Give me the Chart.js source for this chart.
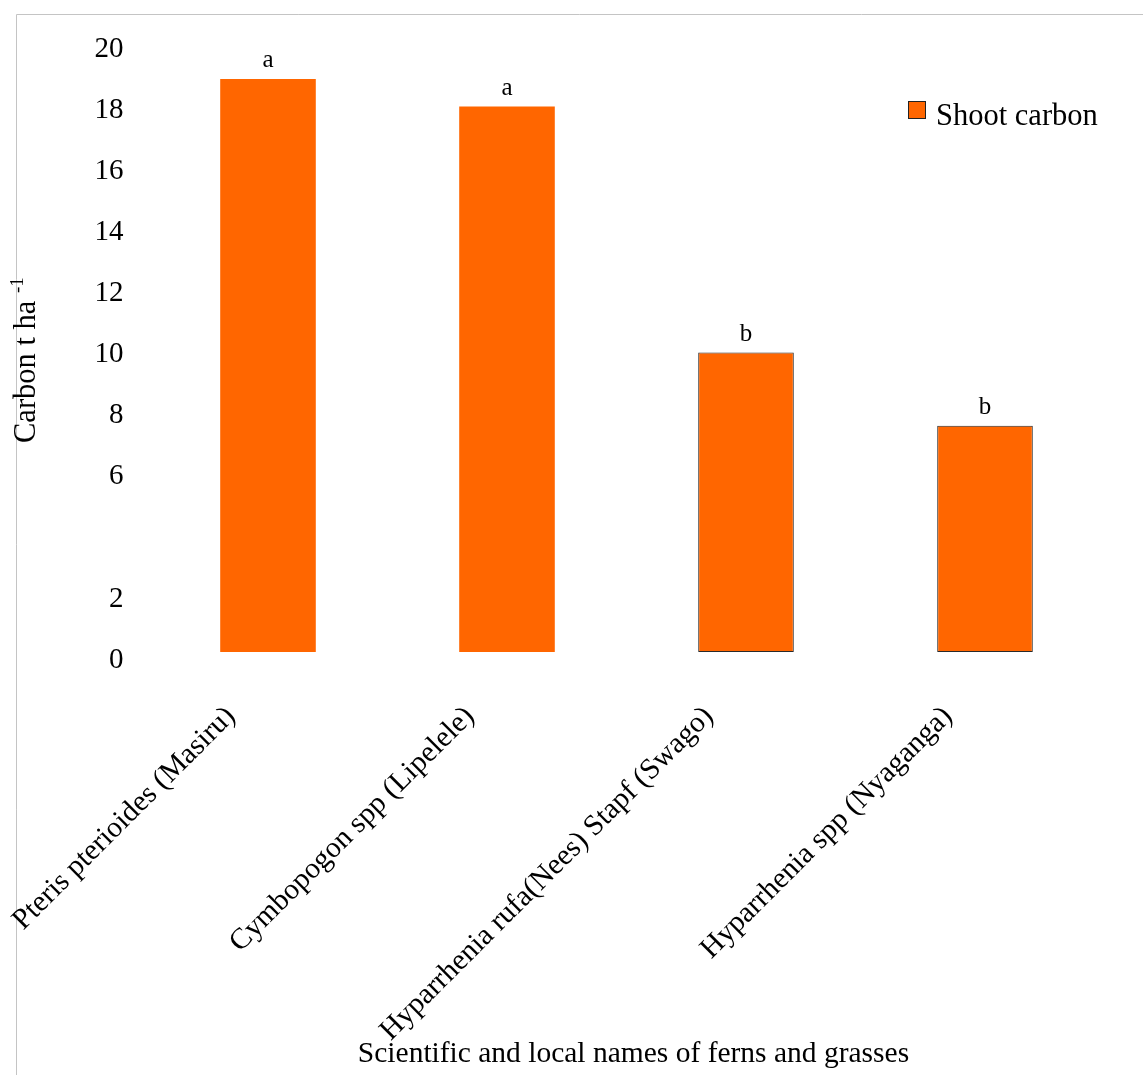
<!DOCTYPE html>
<html>
<head>
<meta charset="utf-8">
<script src="https://cdn.jsdelivr.net/npm/chart.js@4.4.0/dist/chart.umd.min.js"></script>
<style>
    html, body { margin: 0; padding: 0; background: #ffffff; }
    #wrap { width: 1143px; height: 1075px; position: relative; }
</style>
</head>
<body>
<div id="wrap"><canvas id="carbonChart"></canvas></div>
<script>
// Dados
const CATEGORIES = [
    'Pteris pterioides (Masiru)',
    'Cymbopogon spp (Lipelele)',
    'Hyparrhenia rufa(Nees) Stapf (Swago)',
    'Hyparrhenia spp (Nyaganga)'
];
const SHOOT_CARBON = [18.95, 18.05, 10.0, 7.6];
const BAR_BASE = 0.2;              // as barras começam um pouco acima do zero
const SIGNIF_LETTERS = ['a', 'a', 'b', 'b'];
const Y_TICK_LABELS = [0, 2, 6, 8, 10, 12, 14, 16, 18, 20]; // o "4" não aparece

const SERIES_LABEL = 'Shoot carbon';
const X_TITLE = 'Scientific and local names of ferns and grasses';
const Y_TITLE = 'Carbon t ha ';
const Y_TITLE_SUP = '-1';

const FONT = "'Liberation Serif', 'Times New Roman', serif";
const ORANGE = '#ff6600';

// Plugin para moldura, letras, rótulos girados, títulos e legenda
const decorPlugin = {
    id: 'decor',
    beforeDraw(chart) {
        const ctx = chart.ctx;
        ctx.save();
        ctx.strokeStyle = '#c4c4c4';
        ctx.lineWidth = 1;
        ctx.beginPath();
        ctx.moveTo(16.5, chart.height);
        ctx.lineTo(16.5, 14.5);
        ctx.lineTo(chart.width, 14.5);
        ctx.stroke();
        ctx.restore();
    },
    afterDraw(chart) {
        const ctx = chart.ctx;
        const meta = chart.getDatasetMeta(0);
        const xScale = chart.scales.x;
        ctx.save();
        ctx.fillStyle = '#000000';

        // letras de significância
        ctx.font = '25px ' + FONT;
        ctx.textAlign = 'center';
        ctx.textBaseline = 'alphabetic';
        meta.data.forEach((bar, i) => {
            ctx.fillText(SIGNIF_LETTERS[i], bar.x, bar.y - 12);
        });

        // rótulos das categorias (45°)
        ctx.font = '29.5px ' + FONT;
        CATEGORIES.forEach((label, i) => {
            const x = xScale.getPixelForValue(i);
            ctx.save();
            ctx.translate(x - 37, 712);
            ctx.rotate(-Math.PI / 4);
            ctx.textAlign = 'right';
            ctx.textBaseline = 'middle';
            ctx.fillText(label, 0, 0);
            ctx.restore();
        });

        // título do eixo x
        ctx.font = '29.5px ' + FONT;
        ctx.textAlign = 'center';
        ctx.textBaseline = 'alphabetic';
        ctx.fillText(X_TITLE, 633.5, 1062);

        // título do eixo y com sobrescrito
        ctx.save();
        ctx.translate(35, 443);
        ctx.rotate(-Math.PI / 2);
        ctx.textAlign = 'left';
        ctx.font = '30.5px ' + FONT;
        ctx.fillText(Y_TITLE, 0, 0);
        const w = ctx.measureText(Y_TITLE).width;
        ctx.font = '19px ' + FONT;
        ctx.fillText(Y_TITLE_SUP, w, -12);
        ctx.restore();

        // legenda
        ctx.fillStyle = ORANGE;
        ctx.fillRect(908, 101, 18, 18);
        ctx.strokeStyle = '#222222';
        ctx.lineWidth = 1;
        ctx.strokeRect(908.5, 101.5, 17, 17);
        ctx.fillStyle = '#000000';
        ctx.font = '30.5px ' + FONT;
        ctx.textAlign = 'left';
        ctx.fillText(SERIES_LABEL, 936, 125);

        ctx.restore();
    }
};

new Chart(document.getElementById('carbonChart'), {
    type: 'bar',
    data: {
        labels: CATEGORIES,
        datasets: [{
            label: SERIES_LABEL,
            data: SHOOT_CARBON,
            base: BAR_BASE,
            backgroundColor: ORANGE,
            borderColor: [ORANGE, ORANGE, '#2a2a2a', '#2a2a2a'],
            borderWidth: [0, 0, 1, 1],
            borderSkipped: false,
            categoryPercentage: 1.0,
            barPercentage: 0.4
        }]
    },
    options: {
        responsive: true,
        maintainAspectRatio: false,
        animation: false,
        layout: { padding: { top: 47, right: 38.5, bottom: 0, left: 0 } },
        plugins: {
            legend: { display: false },
            tooltip: { enabled: false }
        },
        scales: {
            x: {
                grid: { display: false, drawTicks: false },
                border: { display: false },
                ticks: { display: false },
                afterFit(scale) { scale.height = 417; }
            },
            y: {
                min: 0,
                max: 20,
                grid: { display: false, drawTicks: false },
                border: { display: false },
                ticks: {
                    stepSize: 2,
                    padding: 25,
                    labelOffset: 2,
                    color: '#000000',
                    font: { family: FONT, size: 29 },
                    callback: function(value) {
                        return Y_TICK_LABELS.includes(value) ? String(value) : null;
                    }
                },
                afterFit(scale) { scale.width = 148.5; }
            }
        }
    },
    plugins: [decorPlugin]
});
</script>
</body>
</html>
